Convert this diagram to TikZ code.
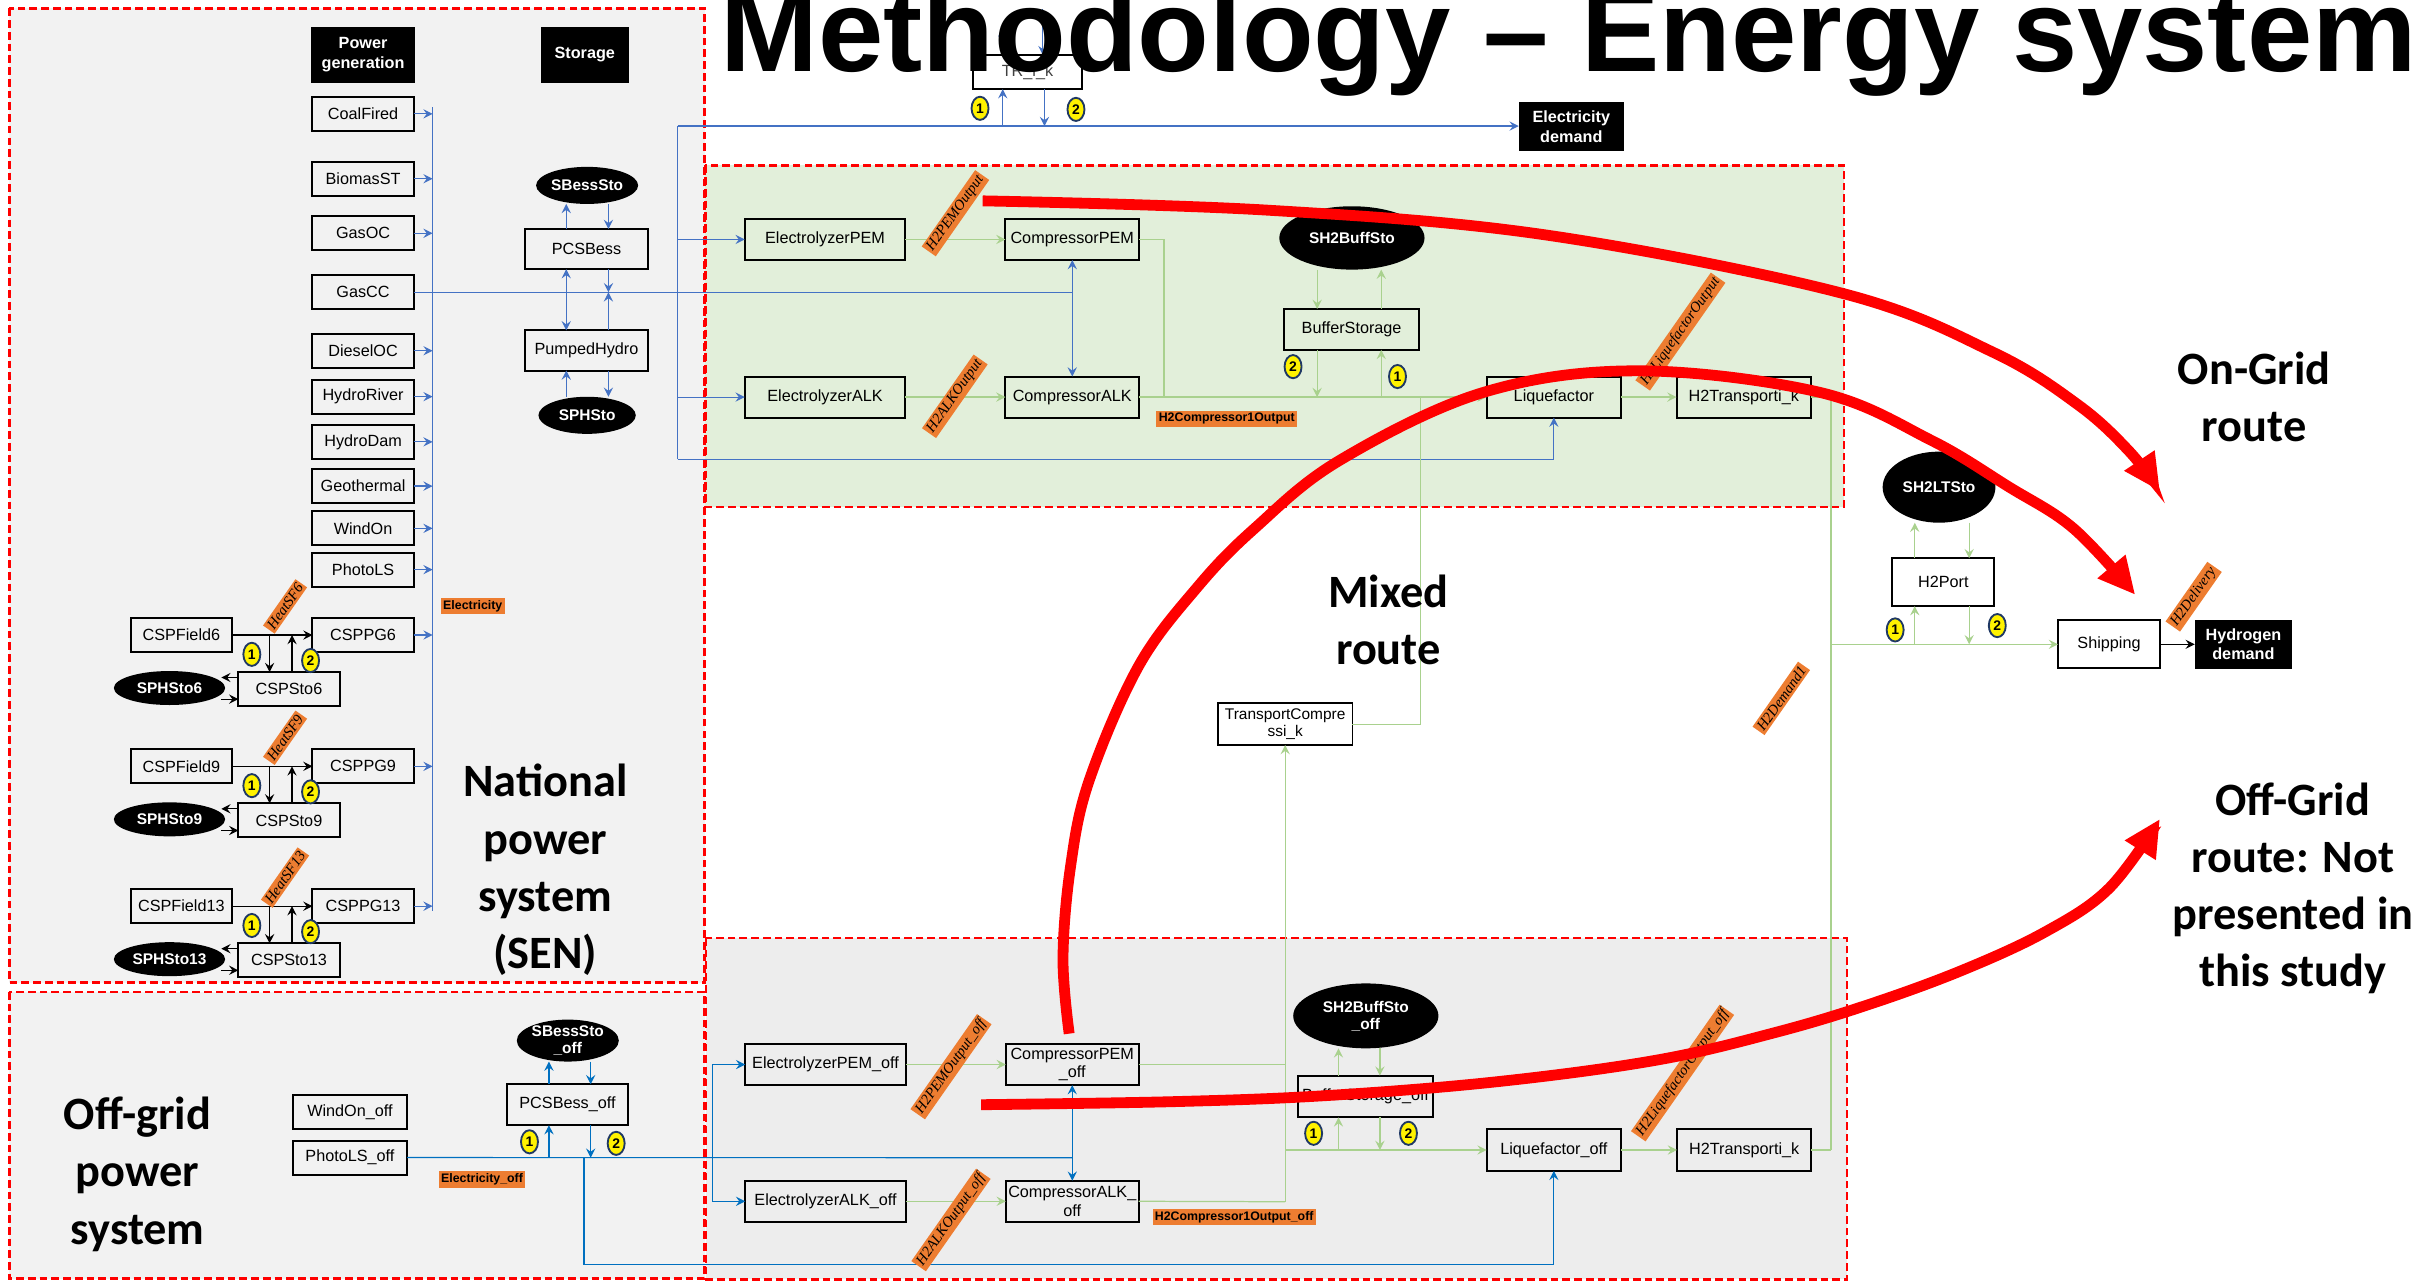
\documentclass[tikz,border=0pt]{standalone}
\usepackage{fontspec}
\setmainfont{Liberation Sans}
\newfontfamily\bigfont{Carlito}
\newfontfamily\labfont{Liberation Serif}
\usetikzlibrary{arrows.meta,shapes.geometric,calc}
\definecolor{redline}{HTML}{FF0000}
\definecolor{sengray}{HTML}{F2F2F2}
\definecolor{greenbg}{HTML}{E2EFDA}
\definecolor{offbg}{HTML}{EDEDED}
\definecolor{elblue}{HTML}{4472C4}
\definecolor{offblue}{HTML}{0070C0}
\definecolor{hgreen}{HTML}{A9D18E}
\definecolor{lblorange}{HTML}{ED7D31}
\definecolor{circborder}{HTML}{1F3864}
\tikzset{
  frame/.style={draw=redline, line width=1.6pt, dash pattern=on 5pt off 2.6pt},
  box/.style={draw=black, line width=1.3pt, inner sep=0pt, outer sep=0pt, align=center, font=\fontsize{10.5}{12}\selectfont},
  wh/.style 2 args={minimum width=#1pt, minimum height=#2pt},
  darkbox/.style={fill=black, inner sep=0pt, outer sep=0pt, align=center, text=white, font=\bfseries\fontsize{10.5}{12.5}\selectfont},
  blob/.style={ellipse, fill=black, inner sep=0pt, outer sep=0pt, align=center, text=white, font=\bfseries\fontsize{10}{11}\selectfont},
  num/.style={ellipse, fill=yellow, draw=circborder, line width=1.2pt, minimum width=11pt, minimum height=15pt, inner sep=0pt, font=\bfseries\fontsize{9}{9}\selectfont},
  olabel/.style={fill=lblorange, inner sep=1.5pt, font=\bfseries\fontsize{8}{9}\selectfont},
  rlabel/.style={fill=lblorange, inner sep=1.4pt, rotate=55, font=\labfont\itshape\fontsize{9.5}{10}\selectfont},
  tip/.style={-{Stealth[length=6pt,width=6pt,inset=2.2pt]}},
  bl/.style={draw=elblue, line width=0.75pt},
  bla/.style={bl, tip},
  ob/.style={draw=offblue, line width=0.75pt},
  oba/.style={ob, tip},
  gr/.style={draw=hgreen, line width=0.8pt},
  gra/.style={gr, tip},
  bk/.style={draw=black, line width=0.75pt},
  bka/.style={bk, tip},
  bigtxt/.style={font=\bigfont\bfseries\fontsize{30}{37}\selectfont, align=center, inner sep=0pt},
  route/.style={draw=redline, line width=7pt, -{Triangle[length=24pt,width=22pt]}},
}
\begin{document}
\begin{tikzpicture}[x=1pt,y=-1pt]
\useasboundingbox (0,0) rectangle (1566.3,829.8);
% ---------- frames
\path[fill=sengray] (6,5.4) rectangle (456,636);
\path[fill=sengray] (6,642) rectangle (456,827.5);
\path[fill=greenbg] (456.5,107) rectangle (1193.5,328);
\path[fill=offbg] (457,607) rectangle (1195.5,828);
\draw[frame] (6,5.4) rectangle (456,636);
\draw[frame] (6,642) rectangle (456,827.5);
\draw[frame] (456.5,107) rectangle (1193.5,328);
\draw[frame] (457,607) rectangle (1195.5,828);

% ---------- SEN: headers and generators
\node[darkbox, wh={67}{36}] (pg) at (235,35.4) {Power\\generation};
\node[darkbox, wh={57}{36}] (st) at (378.5,35.4) {Storage};
\foreach \n/\t/\y in {coal/CoalFired/73.7, bio/BiomasST/115.7, gasoc/GasOC/151, gascc/GasCC/189.2, diesel/DieselOC/227, hriver/HydroRiver/256.7, hdam/HydroDam/286, geo/Geothermal/314.6, wind/WindOn/342, pv/PhotoLS/368.7, pg6/CSPPG6/411, pg9/CSPPG9/496, pg13/CSPPG13/586.5}
  \node[box, wh={65.5}{22}] (\n) at (235,\y) {\t};
\coordinate (bustop) at (280,69.5);
\coordinate (busbot) at (280,589.4);
\draw[bl] (bustop) -- (busbot);
\foreach \n in {coal, bio, gasoc, diesel, hriver, hdam, geo, wind, pv, pg6, pg9, pg13}
  \draw[bla] (\n.east) -- (\n.east -| bustop);

% CSP groups
\foreach \k/\y in {6/411, 9/496, 13/586.5} {
  \node[box, wh={65.5}{22}] (field\k) at (117.4,\y) {CSPField\k};
  \node[box, wh={65.5}{22}] (sto\k) at (187,{\y+35}) {CSPSto\k};
  \node[blob, wh={72}{22}] (sph\k) at (109.7,{\y+34.3}) {SPHSto\k};
  \coordinate (ja\k) at (174.5,\y);
  \coordinate (jb\k) at (189,\y);
  \draw[bka] (field\k.east) -- (pg\k.west);
  \draw[bka] (ja\k) -- (ja\k |- sto\k.north);
  \draw[bka] (jb\k |- sto\k.north) -- (jb\k);
  \draw[bka] ($(sto\k.west)+(0,-7.5)$) -- ++(-11,0);
  \draw[bka] ($(sto\k.west)+(-11,6.5)$) -- ++(11,0);
  \node[num] (na\k) at (163,{\y+12.5}) {1};
  \node[num] (nb\k) at (201,{\y+16.5}) {2};
  \node[rlabel] (heat\k) at (184.5,{\y-18.5}) {HeatSF\k};
}
\node[olabel] (lelec) at (306,392.3) {Electricity};

% Storage column
\node[blob, wh={63}{24}] (sbess) at (380,120) {SBessSto};
\node[box, wh={79}{26}] (pcs) at (379.6,161.2) {PCSBess};
\node[box, wh={79}{26}] (ph) at (379.6,226.8) {PumpedHydro};
\node[blob, wh={63}{24}] (sphsto) at (380,268.8) {SPHSto};
\coordinate (sxl) at (366.5,0);
\coordinate (sxr) at (393.8,0);
\coordinate (sl) at (366.5,189.2);
\coordinate (sr) at (393.8,189.2);
\draw[bla] (pcs.north -| sxl) -- (sbess.south -| sxl);
\draw[bla] (sbess.south -| sxr) -- (pcs.north -| sxr);
\draw[bla] (sl) -- (pcs.south -| sl);
\draw[bla] (sl) -- (ph.north -| sl);
\draw[bla] (pcs.south -| sr) -- (sr);
\draw[bla] (ph.north -| sr) -- (sr);
\draw[bla] (sphsto.north -| sxl) -- (ph.south -| sxl);
\draw[bla] (ph.south -| sxr) -- (sphsto.north -| sxr);

% ---------- Green frame
\node[box, wh={104}{26.6}] (elpem) at (534,155) {ElectrolyzerPEM};
\node[box, wh={86.5}{26.6}] (comppem) at (694,155) {CompressorPEM};
\node[box, wh={104}{26.6}] (elalk) at (534,257) {ElectrolyzerALK};
\node[box, wh={86.5}{26.6}] (compalk) at (694,257) {CompressorALK};
\node[blob, wh={94}{41}] (sh2buf) at (875,154) {SH2BuffSto};
\node[box, wh={87}{26.5}] (buf) at (874.8,213.2) {BufferStorage};
\node[box, wh={87}{26.6}] (liq) at (1005.7,257) {Liquefactor};
\node[box, wh={87}{26.6}] (h2t) at (1128.6,257) {H2Transporti\_k};

% Electricity distribution (blue)
\coordinate (disttop) at (438.6,81.6);
\coordinate (distbot) at (438.6,297.3);
\coordinate (gasend) at (694,189.2);
\node[darkbox, wh={68}{32}] (elecdem) at (1017,82) {Electricity\\demand};
\node[box, wh={70}{22}, fill=white, text=black!75] (tr) at (665,46.7) {TR\_i\_k};
\draw[bl] (disttop) -- (distbot);
\draw[bla] (disttop) -- (disttop -| elecdem.west);
\draw[bla] (disttop |- elpem) -- (elpem.west);
\draw[bla] (disttop |- elalk) -- (elalk.west);
\draw[bl] (gascc.east) -- (gasend);
\draw[bla] (gasend) -- (comppem.south);
\draw[bla] (gasend) -- (compalk.north);
\draw[bl] (distbot) -- (distbot -| liq);
\draw[bla] (distbot -| liq) -- (liq.south);
\coordinate (trl) at (649,81.6);
\coordinate (trr) at (676,81.6);
\coordinate (trtop) at (675,6);
\draw[bla] (trl) -- (trl |- tr.south);
\draw[bla] (trr |- tr.south) -- (trr);
\draw[bla] (tr.north -| trl) -- ($(tr.north -| trl)+(0,-18)$);
\draw[bla] (trtop) -- (trtop |- tr.north);
\node[num] (ntr1) at (634.3,70.1) {1};
\node[num] (ntr2) at (696.4,70.8) {2};

% hydrogen (green) in green frame
\draw[gra] (elpem) -- (comppem);
\draw[gra] (elalk) -- (compalk);
\coordinate (cj) at (753.3,155);
\draw[gr] (comppem.east) -- (cj) -- (cj |- compalk);
\draw[gra] (compalk.east) -- (liq.west);
\coordinate (bfa) at (852.5,257);
\coordinate (bfb) at (894,257);
\draw[gra] (sh2buf.south -| bfa) -- (buf.north -| bfa);
\draw[gra] (buf.north -| bfb) -- (sh2buf.south -| bfb);
\draw[gra] (buf.south -| bfa) -- (bfa);
\draw[gra] (bfb) -- (buf.south -| bfb);
\node[num] (nbf2) at (836.9,237.3) {2};
\node[num] (nbf1) at (904.5,243.7) {1};
\draw[gra] (liq) -- (h2t);

% middle
\node[box, wh={87}{27}, line width=1.1pt, font=\fontsize{10}{11.5}\selectfont] (tcomp) at (831.8,468.7) {TransportCompre\\ssi\_k};
\coordinate (mv) at (919.3,257);
\draw[gr] (mv) -- (mv |- tcomp) -- (tcomp.east);

% port and shipping
\node[blob, wh={73}{46}] (lt) at (1255,315.3) {SH2LTSto};
\node[box, wh={66}{31}] (port) at (1257.8,376.8) {H2Port};
\node[box, wh={66}{31}] (ship) at (1365,417) {Shipping};
\node[darkbox, wh={63}{32}] (hdem) at (1452,417) {Hydrogen\\demand};
\coordinate (tv) at (1185,257);
\coordinate (tvb) at (1185,744.3);
\draw[gr] (h2t.east) -- (tv) -- (tvb);
\draw[gra] (tv |- ship) -- (ship.west);
\coordinate (pl) at (1239.3,417);
\coordinate (pr) at (1274.5,417);
\draw[gra] (port.north -| pl) -- (lt.south -| pl);
\draw[gra] (lt.south -| pr) -- (port.north -| pr);
\draw[gra] (pl) -- (pl |- port.south);
\draw[gra] (pr |- port.south) -- (pr);
\node[num] (npt1) at (1226.6,407.7) {1};
\node[num] (npt2) at (1292.7,404.9) {2};
\draw[bka] (ship) -- (hdem);

% ---------- Off-grid hydrogen frame
\node[box, wh={104}{26.6}] (elpemo) at (534.3,689) {ElectrolyzerPEM\_off};
\node[box, wh={86}{26.6}] (comppemo) at (694,689) {CompressorPEM\\\_off};
\node[box, wh={104}{26.6}] (elalko) at (534.3,777.5) {ElectrolyzerALK\_off};
\node[box, wh={86}{26.6}] (compalko) at (694,777.5) {CompressorALK\_\\off};
\node[blob, wh={94}{42}] (sh2bufo) at (884,657.5) {SH2BuffSto\\\_off};
\node[box, wh={87}{27}] (bufo) at (883.8,709.7) {BufferStorage\_off};
\node[box, wh={87}{27}] (liqo) at (1005.7,744.3) {Liquefactor\_off};
\node[box, wh={87}{27}] (h2to) at (1128.9,744.3) {H2Transporti\_k};
\draw[gra] (elpemo) -- (comppemo);
\draw[gra] (elalko) -- (compalko);
\coordinate (gv) at (831.8,777.8);
\draw[gr] (comppemo.east) -- (comppemo.east -| gv);
\draw[gr] (compalko.east) -- (gv);
\draw[gra] (gv) -- (tcomp.south);
\draw[gra] (gv |- liqo) -- (liqo.west);
\draw[gra] (liqo) -- (h2to);
\draw[gr] (h2to.east) -- (tvb);
\coordinate (ol1) at (866.3,744.3);
\coordinate (ol2) at (893.1,744.3);
\draw[gra] (ol1) -- (ol1 |- bufo.south);
\draw[gra] (bufo.south -| ol2) -- (ol2);
\draw[gra] (bufo.north -| ol1) -- (sh2bufo.south -| ol1);
\draw[gra] (sh2bufo.south -| ol2) -- (bufo.north -| ol2);
\node[num] (nbo1) at (850.2,733.5) {1};
\node[num] (nbo2) at (911.6,733.5) {2};

% ---------- Off-grid power frame
\node[box, wh={74}{22}] (windo) at (226.5,720) {WindOn\_off};
\node[box, wh={74}{22}] (pvo) at (226.5,749.2) {PhotoLS\_off};
\node[box, wh={78.6}{26.5}] (pcso) at (367.3,715) {PCSBess\_off};
\node[blob, wh={63}{24}] (sbesso) at (367.5,673.5) {SBessSto\\\_off};
\coordinate (ov) at (694,749.3);
\draw[ob] (pvo.east) -- (ov);
\draw[oba] (ov) -- (comppemo.south);
\draw[oba] (ov) -- (compalko.north);
\coordinate (ev1) at (461.1,689);
\coordinate (ev2) at (461.1,777.5);
\draw[ob] (ev1) -- (ev2);
\draw[oba] (ev1) -- (elpemo.west);
\draw[oba] (ev2) -- (elalko.west);
\coordinate (dv) at (378,749.3);
\coordinate (dvb) at (378,818.3);
\draw[ob] (dv) -- (dvb) -- (dvb -| liqo);
\draw[oba] (dvb -| liqo) -- (liqo.south);
\coordinate (pol) at (355.3,749.3);
\coordinate (por) at (382.3,749.3);
\draw[oba] (pol) -- (pol |- pcso.south);
\draw[oba] (pcso.south -| por) -- (por);
\draw[oba] (pcso.north -| pol) -- (sbesso.south -| pol);
\draw[oba] (sbesso.south -| por) -- (pcso.north -| por);
\node[num] (npo1) at (342.7,739) {1};
\node[num] (npo2) at (398.8,740) {2};

% ---------- labels
\node[olabel] (lh2c) at (794,271) {H2Compressor1Output};
\node[olabel] (lh2co) at (798.8,787.7) {H2Compressor1Output\_off};
\node[olabel] (leleco) at (312,763.4) {Electricity\_off};
\node[rlabel] (lpem) at (618.4,138) {H2PEMOutput};
\node[rlabel] (lalk) at (618,256.5) {H2ALKOutput};
\node[rlabel] (lliq) at (1087.6,214.6) {H2LiquefactorOutput};
\node[rlabel] (ldem) at (1152.9,452) {H2Demand1};
\node[rlabel] (ldel) at (1419.8,386.2) {H2Delivery};
\node[rlabel] (lpemo) at (615.5,690.4) {H2PEMOutput\_off};
\node[rlabel] (lalko) at (615.5,789.6) {H2ALKOutput\_off};
\node[rlabel] (lliqo) at (1089,694.5) {H2LiquefactorOutput\_off};

% ---------- title and big texts
\node[anchor=base west, inner sep=0pt, font=\bfseries\fontsize{76}{80}\selectfont] (title) at (466,46) {Methodology \textendash{} Energy system};
\node[bigtxt] (tsen) at (353,563) {National\\power\\system\\(SEN)};
\node[bigtxt] (toff) at (89,760) {Off-grid\\power\\system};
\node[bigtxt] (ton) at (1459,257) {On-Grid\\route};
\node[bigtxt] (tmix) at (898.6,401) {Mixed\\route};
\node[bigtxt] (toffr) at (1484,575) {Off-Grid\\route: Not\\presented in\\this study};

% ---------- red route arrows
\draw[route] plot[smooth, tension=0.6] coordinates {(636,130) (820,136) (1000,152) (1193,190) (1290,228) (1345,262) (1378,292) (1398,318)};
\draw[route] plot[smooth, tension=0.6] coordinates {(692,669) (688,620) (693,560) (705,505) (737,431) (775,380) (812,342) (867,298) (960,254) (1060,240) (1178,254) (1250,285) (1300,315) (1342,342) (1382,385)};
\draw[route] plot[smooth, tension=0.6] coordinates {(635,715) (760,713) (860,709) (970,700) (1073,686) (1150,668) (1210,650) (1270,628) (1324,603) (1365,575) (1398,530)};
\end{tikzpicture}
\end{document}
